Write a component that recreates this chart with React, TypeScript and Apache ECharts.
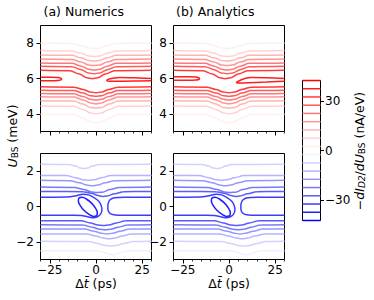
import React, { useEffect, useRef } from "react";
import * as echarts from "echarts";

type Pt = [number, number];

// ---------- axes / ticks ----------
const xMin = -30;
const xMax = 30;
const xMajorTicks = [-25, 0, 25];
const xMinorStep = 5;
const topYMin = 3;
const topYMax = 9;
const topYTicks = [4, 6, 8];
const bottomYMin = -3;
const bottomYMax = 3;
const bottomYTicks = [-2, 0, 2];
const colorbarMin = -42.5;
const colorbarMax = 42.5;
const colorbarTicks = [-30, 0, 30];
const contourLevels = [
  -42.5, -37.5, -32.5, -27.5, -22.5, -17.5, -12.5, -7.5, -2.5,
  2.5, 7.5, 12.5, 17.5, 22.5, 27.5, 32.5, 37.5, 42.5,
];
const panelTitles = ["(a) Numerics", "(b) Analytics"];

// ---------- top row (U_BS around 6 meV, positive signal) ----------
const topUpperLevels = [2.5, 7.5, 12.5, 17.5, 22.5, 27.5, 32.5];
const topUpperLines: Pt[][] = [
  [[-30, 8.0], [-13, 7.985], [-8, 7.865], [-4, 7.73], [-1, 7.7], [2, 7.73], [6, 7.865], [11, 7.985], [30, 8.0]],
  [[-30, 7.58], [-13, 7.56], [-8, 7.43], [-4, 7.28], [-1, 7.25], [2, 7.28], [6, 7.43], [11, 7.56], [30, 7.58]],
  [[-30, 7.33], [-13, 7.31], [-8, 7.17], [-4, 7.02], [-1, 6.98], [2, 7.02], [6, 7.17], [11, 7.31], [30, 7.33]],
  [[-30, 7.1], [-13, 7.08], [-8, 6.93], [-4, 6.77], [-1, 6.73], [2, 6.77], [6, 6.93], [11, 7.08], [30, 7.1]],
  [[-30, 6.88], [-13, 6.86], [-8, 6.7], [-4, 6.52], [-1, 6.48], [2, 6.52], [6, 6.7], [11, 6.86], [30, 6.88]],
  [[-30, 6.69], [-13, 6.67], [-8, 6.5], [-4, 6.31], [-1, 6.27], [2, 6.31], [6, 6.5], [11, 6.67], [30, 6.69]],
  [[-30, 6.46], [-14, 6.44], [-9, 6.25], [-5, 6.04], [-2, 5.99], [1, 6.04], [5, 6.25], [10, 6.44], [30, 6.46]],
];
const topLowerLevels = [32.5, 27.5, 22.5, 17.5, 12.5, 7.5, 2.5];
const topLowerLines: Pt[][] = [
  [[-30, 5.53], [-12, 5.51], [-7, 5.38], [-3, 5.23], [0, 5.2], [3, 5.23], [7, 5.38], [12, 5.51], [30, 5.53]],
  [[-30, 5.34], [-12, 5.32], [-7, 5.18], [-3, 5.03], [0, 4.99], [3, 5.03], [7, 5.18], [12, 5.32], [30, 5.34]],
  [[-30, 5.15], [-12, 5.13], [-7, 4.98], [-3, 4.82], [0, 4.78], [3, 4.82], [7, 4.98], [12, 5.13], [30, 5.15]],
  [[-30, 4.97], [-12, 4.95], [-7, 4.79], [-3, 4.61], [0, 4.57], [3, 4.61], [7, 4.79], [12, 4.95], [30, 4.97]],
  [[-30, 4.74], [-12, 4.72], [-7, 4.55], [-3, 4.36], [0, 4.32], [3, 4.36], [7, 4.55], [12, 4.72], [30, 4.74]],
  [[-30, 4.45], [-12, 4.43], [-7, 4.25], [-3, 4.05], [0, 4.0], [3, 4.05], [7, 4.25], [12, 4.43], [30, 4.45]],
  [[-30, 3.98], [-12, 3.96], [-7, 3.76], [-3, 3.55], [0, 3.5], [3, 3.55], [7, 3.76], [12, 3.96], [30, 3.98]],
];
const ridgeLevel = 37.5;
const numericsLeftTongue: Pt[] = [
  [-30, 6.07], [-24, 6.07], [-20.5, 6.055], [-19, 6.02], [-18.6, 5.97], [-19, 5.92], [-20.5, 5.885], [-24, 5.875], [-30, 5.875],
];
const numericsRightTongue: Pt[] = [
  [30, 6.0], [20, 6.04], [13, 6.06], [9, 6.02], [6.5, 5.95], [5.8, 5.88], [6.8, 5.84], [12, 5.845], [20, 5.855], [30, 5.87],
];
const analyticsLeftTongue: Pt[] = [
  [-30, 6.1], [-22, 6.1], [-18, 6.09], [-16.4, 6.04], [-16, 5.99], [-16.4, 5.94], [-18, 5.91], [-22, 5.9], [-30, 5.9],
];
const analyticsRightTongue: Pt[] = [
  [30, 6.0], [20, 6.04], [12, 6.05], [7.5, 5.96], [5, 5.84], [4, 5.77], [5, 5.74], [10, 5.76], [20, 5.8], [30, 5.85],
];

// ---------- bottom row (U_BS around 0 meV, negative signal) ----------
const bottomUpperLevels = [-7.5, -12.5, -17.5, -22.5, -27.5];
const bottomUpperLines: Pt[][] = [
  [[-30, 2.39], [-14.5, 2.38], [-11, 2.29], [-8.5, 2.18], [-6.5, 2.14], [-4.5, 2.18], [-2, 2.29], [1.5, 2.38], [30, 2.39]],
  [[-30, 1.76], [-16, 1.75], [-11, 1.63], [-7, 1.51], [-4, 1.48], [-1, 1.51], [3, 1.63], [8, 1.75], [30, 1.76]],
  [[-30, 1.48], [-14, 1.46], [-9, 1.35], [-5, 1.21], [-2, 1.18], [1, 1.21], [5, 1.35], [10, 1.46], [30, 1.48]],
  [[-30, 1.1], [-11.5, 1.08], [-6.5, 0.96], [-2.5, 0.82], [0.5, 0.79], [3.5, 0.81], [7.5, 0.96], [12.5, 1.08], [30, 1.1]],
  [[-30, 0.85], [-7, 0.84], [-2, 0.74], [1, 0.62], [3.5, 0.57], [6, 0.6], [10, 0.72], [15, 0.84], [30, 0.85]],
];
const bottomLowerLevels = [-27.5, -22.5, -17.5, -12.5, -7.5, -2.5];
const bottomLowerLines: Pt[][] = [
  [[-30, -0.8], [-8, -0.81], [-3, -0.93], [1, -1.05], [4, -1.08], [7, -1.05], [11, -0.93], [16, -0.81], [30, -0.8]],
  [[-30, -1.04], [-7, -1.05], [-2, -1.17], [2, -1.29], [5, -1.32], [8, -1.29], [12, -1.17], [17, -1.05], [30, -1.04]],
  [[-30, -1.27], [-6, -1.28], [-1, -1.4], [3, -1.52], [6, -1.55], [9, -1.52], [13, -1.4], [18, -1.28], [30, -1.27]],
  [[-30, -1.55], [-5, -1.56], [0, -1.67], [4, -1.79], [7, -1.82], [10, -1.79], [14, -1.67], [19, -1.56], [30, -1.55]],
  [[-30, -1.97], [-4, -1.98], [1, -2.09], [5, -2.21], [8, -2.24], [11, -2.21], [15, -2.09], [20, -1.98], [30, -1.97]],
  [[-30, -2.5], [1, -2.51], [4.5, -2.6], [7, -2.7], [9, -2.74], [11, -2.7], [13.5, -2.6], [17, -2.51], [30, -2.5]],
];
const valleyLevel = -32.5;
const valleyLoop: Pt[] = [
  [-30, 0.53], [-16, 0.54], [-11, 0.6], [-7, 0.7], [-4, 0.66], [-1, 0.5], [1.5, 0.3], [2.8, 0.06], [3.2, -0.2],
  [2.5, -0.43], [0.8, -0.58], [-1.5, -0.64], [-4.5, -0.58], [-8, -0.51], [-12, -0.49], [-30, -0.49],
];
const valleyNose: Pt[] = [
  [30, 0.53], [15, 0.53], [10, 0.5], [7.6, 0.38], [6.5, 0.15], [6.4, -0.12], [7.2, -0.35], [9.5, -0.47], [15, -0.5], [30, -0.5],
];
const islandLevel = -37.5;
const island: Pt[] = [
  [0.38, -0.52], [0.73, -0.35], [-0.29, -0.09], [-2.41, 0.19], [-5.07, 0.41], [-7.54, 0.52], [-9.18, 0.48],
  [-9.53, 0.31], [-8.51, 0.05], [-6.39, -0.23], [-3.73, -0.45], [-1.26, -0.56], [0.38, -0.52],
];

// ---------- styling ----------
const FONT = "'DejaVu Sans', 'Noto Sans', sans-serif";
const gridBoxes = [
  { left: 40.5, top: 25.5, width: 111, height: 106 },
  { left: 173.5, top: 25.5, width: 111, height: 106 },
  { left: 40.5, top: 153.5, width: 111, height: 106 },
  { left: 173.5, top: 153.5, width: 111, height: 106 },
  { left: 302.5, top: 80.5, width: 18, height: 140 },
];

function bwr(level: number): string {
  const f = Math.min(1, Math.abs(level) / colorbarMax);
  const c = Math.round(255 * (1 - f));
  return level >= 0 ? `rgb(255,${c},${c})` : `rgb(${c},${c},255)`;
}
const fmt = (v: number) => (v < 0 ? "\u2212" + Math.abs(v) : String(v));

const tickText = { color: "#000", fontSize: 12, fontFamily: FONT };

const richStyles = {
  n: { fontFamily: FONT, fontSize: 12.5, lineHeight: 15, fill: "#000", color: "#000" },
  i: { fontFamily: FONT, fontSize: 12.5, fontStyle: "italic", lineHeight: 15, fill: "#000", color: "#000" },
  s: { fontFamily: FONT, fontSize: 9, lineHeight: 9, verticalAlign: "bottom", fill: "#000", color: "#000" },
  si: { fontFamily: FONT, fontSize: 9, fontStyle: "italic", lineHeight: 9, verticalAlign: "bottom", fill: "#000", color: "#000" },
};

function textEl(x: number, y: number, text: string, rotation = 0, align = "center") {
  return {
    type: "text",
    x,
    y,
    rotation,
    silent: true,
    style: {
      text,
      rich: richStyles,
      fontFamily: FONT,
      fontSize: 12.5,
      fill: "#000",
      align,
      textAlign: align,
      verticalAlign: "middle",
      textVerticalAlign: "middle",
    },
  };
}

export default function App() {
  const ref = useRef<HTMLDivElement>(null);

  useEffect(() => {
    if (!ref.current) return;
    const chart = echarts.init(ref.current, null, { renderer: "svg" });

    const grid = gridBoxes.map((g) => ({
      ...g,
      show: true,
      borderColor: "#000",
      borderWidth: 1,
      backgroundColor: "transparent",
      containLabel: false,
    }));

    const xAxis: any[] = [];
    const yAxis: any[] = [];
    for (let i = 0; i < 4; i++) {
      xAxis.push({
        type: "value",
        gridIndex: i,
        position: "bottom",
        min: xMin,
        max: xMax,
        axisLine: { show: false, onZero: false },
        splitLine: { show: false },
        axisTick: { show: true, length: 4, customValues: xMajorTicks, lineStyle: { color: "#000", width: 1 } },
        axisLabel: { show: i >= 2, customValues: xMajorTicks, formatter: fmt, margin: 4, ...tickText },
      });
      xAxis.push({
        type: "value",
        gridIndex: i,
        position: "bottom",
        min: xMin,
        max: xMax,
        interval: xMinorStep,
        axisLine: { show: false, onZero: false },
        splitLine: { show: false },
        axisTick: { show: true, length: 2, lineStyle: { color: "#000", width: 0.8 } },
        axisLabel: { show: false },
      });
      const top = i < 2;
      yAxis.push({
        type: "value",
        gridIndex: i,
        position: "left",
        min: top ? topYMin : bottomYMin,
        max: top ? topYMax : bottomYMax,
        axisLine: { show: false, onZero: false },
        splitLine: { show: false },
        axisTick: { show: true, length: 4, customValues: top ? topYTicks : bottomYTicks, lineStyle: { color: "#000", width: 1 } },
        axisLabel: { customValues: top ? topYTicks : bottomYTicks, formatter: fmt, margin: 6.5, ...tickText },
      });
    }
    xAxis.push({ type: "value", gridIndex: 4, min: 0, max: 1, show: false });
    yAxis.push({
      type: "value",
      gridIndex: 4,
      position: "right",
      min: colorbarMin,
      max: colorbarMax,
      axisLine: { show: false, onZero: false },
      splitLine: { show: false },
      axisTick: { show: true, length: 3.5, customValues: colorbarTicks, lineStyle: { color: "#000", width: 1 } },
      axisLabel: { customValues: colorbarTicks, formatter: fmt, margin: 4.5, ...tickText },
    });

    type Curve = { grid: number; level: number; pts: Pt[]; monotone: boolean };
    const curves: Curve[] = [];
    for (const g of [0, 1]) {
      topUpperLines.forEach((p, k) => curves.push({ grid: g, level: topUpperLevels[k], pts: p, monotone: true }));
      topLowerLines.forEach((p, k) => curves.push({ grid: g, level: topLowerLevels[k], pts: p, monotone: true }));
    }
    curves.push({ grid: 0, level: ridgeLevel, pts: numericsLeftTongue, monotone: false });
    curves.push({ grid: 0, level: ridgeLevel, pts: numericsRightTongue, monotone: false });
    curves.push({ grid: 1, level: ridgeLevel, pts: analyticsLeftTongue, monotone: false });
    curves.push({ grid: 1, level: ridgeLevel, pts: analyticsRightTongue, monotone: false });
    for (const g of [2, 3]) {
      bottomUpperLines.forEach((p, k) => curves.push({ grid: g, level: bottomUpperLevels[k], pts: p, monotone: true }));
      bottomLowerLines.forEach((p, k) => curves.push({ grid: g, level: bottomLowerLevels[k], pts: p, monotone: true }));
      curves.push({ grid: g, level: valleyLevel, pts: valleyLoop, monotone: false });
      curves.push({ grid: g, level: valleyLevel, pts: valleyNose, monotone: false });
      curves.push({ grid: g, level: islandLevel, pts: island, monotone: false });
    }
    curves.sort((a, b) => Math.abs(a.level) - Math.abs(b.level));

    const series: any[] = curves.map((c) => ({
      type: "line",
      xAxisIndex: c.grid * 2,
      yAxisIndex: c.grid,
      data: c.pts,
      symbol: "none",
      showSymbol: false,
      smooth: c.monotone ? 0.35 : 0.4,
      ...(c.monotone ? { smoothMonotone: "x" } : {}),
      lineStyle: { color: bwr(c.level), width: 1.5 },
      silent: true,
      clip: true,
    }));
    contourLevels.forEach((l) =>
      series.push({
        type: "line",
        xAxisIndex: 8,
        yAxisIndex: 4,
        data: [[0, l], [1, l]],
        symbol: "none",
        showSymbol: false,
        lineStyle: { color: bwr(l), width: 1.5 },
        silent: true,
        clip: false,
      })
    );

    const graphic = [
      textEl(43.5, 11.5, `{n|${panelTitles[0]}}`, 0, "left"),
      textEl(176, 11.5, `{n|${panelTitles[1]}}`, 0, "left"),
      textEl(12, 136, "{i|U}{s|BS}{n| (meV)}", Math.PI / 2),
      textEl(96, 283, "{n|\u0394}{i|t\u0304}{n| (ps)}"),
      textEl(229, 283, "{n|\u0394}{i|t\u0304}{n| (ps)}"),
      textEl(359, 151, "{n|\u2212}{i|dI}{si|D2}{n|/}{i|dU}{s|BS}{n| (nA/eV)}", Math.PI / 2),
    ];

    chart.setOption({
      animation: false,
      backgroundColor: "#fff",
      grid,
      xAxis,
      yAxis,
      series,
      graphic,
    });
    return () => chart.dispose();
  }, []);

  return (
    <div
      ref={ref}
      style={{ position: "fixed", left: 0, top: 0, width: 374, height: 300, background: "#fff" }}
    />
  );
}
